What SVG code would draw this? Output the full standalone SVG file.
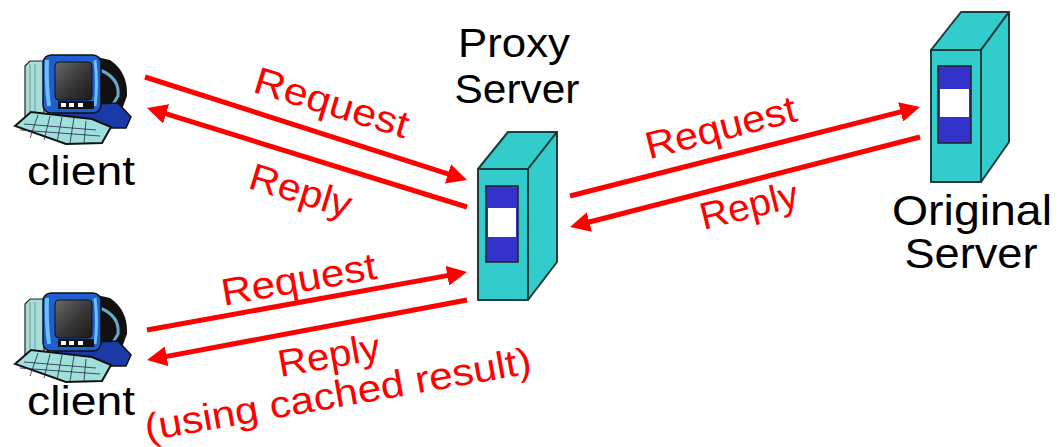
<svg xmlns="http://www.w3.org/2000/svg" xmlns:xlink="http://www.w3.org/1999/xlink" width="1064" height="447" viewBox="0 0 1064 447">
<style>
.lbl{font-family:"Liberation Sans",Arial,sans-serif;fill:#000;text-anchor:middle}
.red{font-family:"Liberation Sans",Arial,sans-serif;fill:#ff0000;text-anchor:middle;font-size:38px}
.conn{stroke:#ff0000;stroke-width:5;fill:none;marker-end:url(#ah)}
.face{fill:#33cccc;stroke:#1e3a3a;stroke-width:2;stroke-linejoin:round}
.win{fill:#3333cc;stroke:#222;stroke-width:1.5}
</style>
<defs>
<marker id="ah" markerUnits="userSpaceOnUse" markerWidth="20" markerHeight="20" refX="4" refY="10" orient="auto">
<path d="M0,0 L20,10 L0,20 z" fill="#ff0000"/>
</marker>
<linearGradient id="scr" x1="0" y1="0" x2="1" y2="1">
<stop offset="0" stop-color="#6a6a6a"/><stop offset="0.5" stop-color="#3a3a3a"/><stop offset="1" stop-color="#1a1a1a"/>
</linearGradient>
<g id="pc">
<path d="M92,56 L110,60 Q128,72 127,96 L121,112 L98,110 Z" fill="#111"/>
<path d="M100,70 Q120,78 118,96 L112,106" stroke="#6aa8c8" stroke-width="3" fill="none"/>
<path d="M25,66 L30,61 L44,61 L44,125 L25,125 Z" fill="#a8dcd8" stroke="#222" stroke-width="1.2"/>
<path d="M30,64 L30,123 M35,64 L35,123" stroke="#6a9a98" stroke-width="1"/>
<path d="M52,106 L118,103 L131,117 L126,128 L58,128 Z" fill="#1a3aa8" stroke="#111" stroke-width="1.5"/>
<rect x="43" y="55" width="58" height="58" rx="8" fill="#1f5ed0" stroke="#111" stroke-width="1.5"/>
<path d="M47,60 Q46,84 49,106" stroke="#6cc0f4" stroke-width="4" fill="none"/>
<path d="M95,60 Q98,84 95,106" stroke="#6cc0f4" stroke-width="3" fill="none"/>
<rect x="55" y="62" width="37" height="38" rx="4" fill="url(#scr)" stroke="#111" stroke-width="1"/>
<rect x="58" y="101" width="36" height="8" fill="#111"/>
<rect x="61" y="103" width="5" height="4" fill="#fff"/>
<rect x="69" y="103" width="5" height="4" fill="#fff"/>
<rect x="78" y="103" width="5" height="4" fill="#fff"/>
<path d="M15,126 L31,112 L92,119 L111,127 L102,143 L66,144 Z" fill="#a0e0dc" stroke="#111" stroke-width="2"/>
<path d="M24,124 L96,130 M20,130 L100,136 M38,115 L30,138 M50,116 L44,140 M62,117 L57,142 M74,118 L70,143 M86,121 L84,143" stroke="#224" stroke-width="0.8"/>
</g>
</defs>
<rect width="1064" height="447" fill="#fff"/>

<g id="connectors">
<path class="conn" d="M145,77 L451.8,175.1"/>
<path class="conn" d="M467,207 L162.3,112.7"/>
<path class="conn" d="M147,330 L451.3,274.9"/>
<path class="conn" d="M467,300 L162.7,357.1"/>
<path class="conn" d="M570,196 L904.5,110.9"/>
<path class="conn" d="M920,137 L585.5,223"/>
</g>

<g id="client1">
<use xlink:href="#pc"/>
<text class="lbl" x="81" y="185" font-size="41" textLength="108" lengthAdjust="spacingAndGlyphs">client</text>
</g>

<g id="client2">
<use xlink:href="#pc" transform="translate(0,238)"/>
<text class="lbl" x="81" y="415" font-size="41" textLength="108" lengthAdjust="spacingAndGlyphs">client</text>
</g>

<g id="proxy">
<polygon class="face" points="478,169 508,132 557,132 528,169"/>
<polygon class="face" points="528,169 557,132 557,262 528,300"/>
<rect class="face" x="478" y="169" width="50" height="131"/>
<rect class="win" x="486" y="186" width="32" height="76"/>
<rect x="488" y="208" width="28" height="29" fill="#fff"/>
<text class="lbl" x="514" y="57" font-size="41" textLength="112" lengthAdjust="spacingAndGlyphs">Proxy</text>
<text class="lbl" x="517" y="103" font-size="41" textLength="125" lengthAdjust="spacingAndGlyphs">Server</text>
</g>

<g id="original">
<polygon class="face" points="931,50 961,12 1009,12 981,50"/>
<polygon class="face" points="981,50 1009,12 1009,142 981,182"/>
<rect class="face" x="931" y="50" width="50" height="132"/>
<rect class="win" x="938" y="66" width="33" height="77"/>
<rect x="940" y="89" width="29" height="28" fill="#fff"/>
<text class="lbl" x="972" y="225" font-size="42" textLength="160" lengthAdjust="spacingAndGlyphs">Original</text>
<text class="lbl" x="971" y="268" font-size="42" textLength="133" lengthAdjust="spacingAndGlyphs">Server</text>
</g>

<g id="labels">
<text class="red" transform="translate(328,115) rotate(17)" textLength="160" lengthAdjust="spacingAndGlyphs">Request</text>
<text class="red" transform="translate(297,203) rotate(17)" textLength="105" lengthAdjust="spacingAndGlyphs">Reply</text>
<text class="red" transform="translate(301,292) rotate(-10)" textLength="157" lengthAdjust="spacingAndGlyphs">Request</text>
<text class="red" transform="translate(331,368) rotate(-10)" textLength="103" lengthAdjust="spacingAndGlyphs">Reply</text>
<text class="red" transform="translate(340,407) rotate(-10)" textLength="392" lengthAdjust="spacingAndGlyphs">(using cached result)</text>
<text class="red" transform="translate(724,140) rotate(-14.4)" textLength="155" lengthAdjust="spacingAndGlyphs">Request</text>
<text class="red" transform="translate(752,218) rotate(-14)" textLength="100" lengthAdjust="spacingAndGlyphs">Reply</text>
</g>
</svg>
